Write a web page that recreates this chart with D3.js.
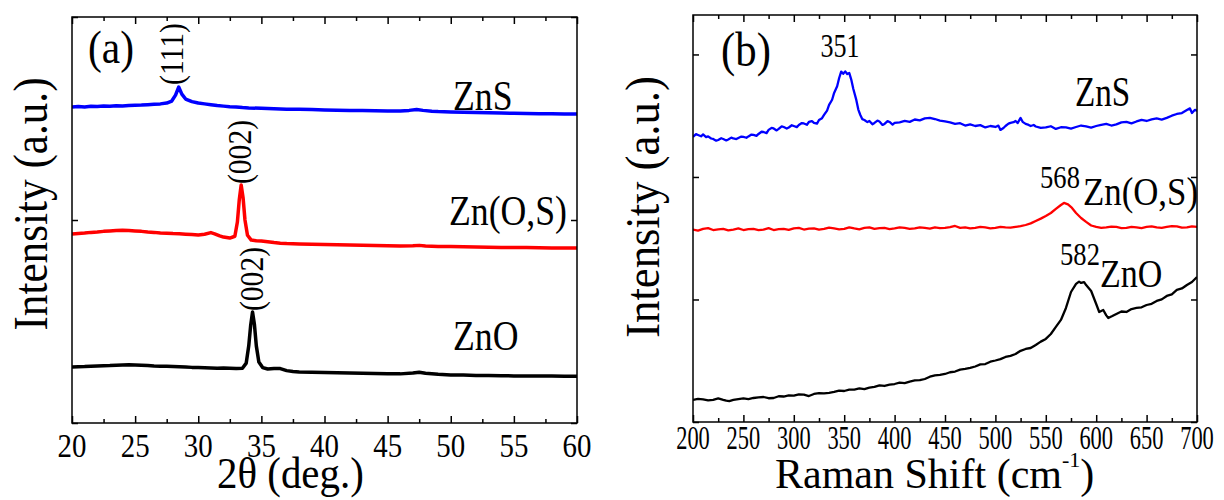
<!DOCTYPE html>
<html><head><meta charset="utf-8">
<script src="https://cdn.jsdelivr.net/npm/d3@7"></script>
<style>
body{margin:0;background:#fff}
svg{display:block}
</style>
</head><body>
<svg id="c" width="1224" height="500" font-family="Liberation Serif, Times New Roman, Tinos, DejaVu Serif, serif"></svg>
<script>
// ---------- DATA ----------
const xrdMajorTicks = [20,25,30,35,40,45,50,55,60];
const xrdMinorTicks = [22.5,27.5,32.5,37.5,42.5,47.5,52.5,57.5];
const xrdYTicks = [0,100,200];

const xrdZnS = [[20,155.6],[20.5,155.9],[21,155.7],[21.5,156.0],[22,155.9],[22.5,156.1],[23,156.0],[23.5,156.3],[24,156.2],[24.5,156.4],[25,156.5],[25.5,156.6],[26,156.8],[26.5,157.0],[27,157.2],[27.5,157.6],[27.9,158.6],[28.2,161.5],[28.45,165.5],[28.7,162.0],[29,159.6],[29.5,158.3],[30,157.6],[30.5,157.2],[31,156.8],[31.5,156.4],[32,156.1],[32.5,155.8],[33,155.7],[33.5,155.4],[34,155.2],[35,155.0],[36,154.8],[37,154.6],[38,154.5],[39,154.4],[40,154.2],[41,154.1],[42,154.0],[43,153.9],[44,153.8],[45,153.7],[46,153.7],[46.7,154.0],[47.3,154.4],[47.8,154.0],[48.5,153.6],[49,153.4],[50,153.2],[51,153.1],[52,152.9],[53,152.8],[54,152.7],[55,152.6],[56,152.5],[57,152.4],[58,152.3],[59,152.2],[60,152.2]];

const xrdZnOS = [[20,93.1],[20.5,93.4],[21,93.6],[21.5,93.9],[22,94.1],[22.5,94.4],[23,94.6],[23.5,94.8],[24,94.9],[24.5,94.8],[25,94.6],[25.5,94.4],[26,94.1],[26.5,93.9],[27,93.6],[27.5,93.5],[28,93.3],[28.5,93.2],[29,93.0],[29.5,92.8],[30,92.6],[30.5,93.0],[31,93.8],[31.3,93.2],[31.7,92.2],[32,91.6],[32.5,91.1],[32.9,92.0],[33.1,99.0],[33.25,110.0],[33.4,117.2],[33.55,111.0],[33.7,100.0],[33.9,92.5],[34.2,90.1],[34.6,89.8],[35,89.7],[35.5,89.3],[36,88.9],[36.5,88.6],[37,88.4],[38,88.2],[39,88.0],[40,87.9],[41,87.8],[42,87.7],[43,87.6],[44,87.4],[45,87.3],[46,87.2],[47,87.3],[47.5,87.5],[48,87.2],[49,87.0],[50,86.9],[51,86.8],[52,86.7],[53,86.6],[54,86.5],[55,86.5],[56,86.4],[57,86.3],[58,86.2],[59,86.2],[60,86.2]];

const xrdZnO = [[20,27.6],[20.5,27.7],[21,27.8],[21.5,28.0],[22,28.1],[22.5,28.2],[23,28.3],[23.5,28.5],[24,28.6],[24.5,28.7],[25,28.6],[25.5,28.5],[26,28.3],[26.5,28.1],[27,28.0],[27.5,27.9],[28,27.8],[28.5,27.7],[29,27.6],[29.5,27.4],[30,27.3],[30.5,27.2],[31,27.1],[31.5,27.0],[32,27.1],[32.5,27.0],[33,26.8],[33.5,27.0],[33.8,29.5],[34.0,38.0],[34.15,48.0],[34.3,54.7],[34.45,48.5],[34.6,38.0],[34.8,30.0],[35.1,27.3],[35.5,26.6],[36,26.9],[36.5,26.8],[37,25.8],[37.5,25.4],[38,25.1],[39,25.0],[40,24.9],[41,24.8],[42,24.6],[43,24.5],[44,24.4],[45,24.3],[46,24.2],[47,24.6],[47.5,25.0],[48,24.5],[49,24.0],[50,23.7],[51,23.6],[52,23.4],[53,23.4],[54,23.3],[55,23.2],[56,23.2],[57,23.1],[58,23.1],[59,23.0],[60,23.0]];

const ramanMajorTicks = [200,250,300,350,400,450,500,550,600,650,700];
const ramanMinorTicks = [225,275,325,375,425,475,525,575,625,675];
const ramanYTicks = [0,100,200,300];

const ramanZnS = [[200,232.7],[203,235.0],[205,234.3],[208,233.2],[210,234.7],[213,232.6],[215,233.1],[218,231.4],[220,231.0],[223,229.6],[225,230.2],[228,231.6],[230,231.0],[233,229.8],[235,230.6],[238,232.1],[240,231.4],[243,230.9],[245,231.8],[248,233.0],[250,232.7],[253,232.0],[255,233.1],[258,234.6],[260,234.3],[263,233.6],[265,235.1],[268,236.9],[270,236.7],[273,235.8],[275,238.4],[278,240.1],[280,239.6],[283,238.0],[285,239.2],[288,241.3],[290,240.8],[293,239.5],[295,240.4],[298,242.2],[300,241.6],[303,240.7],[305,242.4],[308,244.0],[310,243.7],[313,242.6],[315,244.9],[318,245.6],[320,244.1],[323,243.5],[325,246.5],[328,248.0],[330,250.6],[333,254.2],[335,258.8],[338,263.0],[340,268.6],[343,274.0],[345,280.8],[347,286.0],[349,284.2],[351,286.2],[353,284.0],[355,284.9],[357,279.5],[359,272.0],[362,262.9],[364,255.0],[366,250.6],[368,247.2],[370,246.5],[373,244.8],[375,245.7],[378,243.0],[380,244.1],[383,246.0],[385,245.3],[388,242.5],[390,243.3],[393,245.6],[395,244.9],[398,242.8],[400,244.1],[405,244.6],[410,245.7],[415,245.0],[420,246.9],[425,246.2],[430,247.8],[435,248.3],[440,247.3],[445,246.0],[450,245.3],[455,244.5],[460,243.3],[465,243.9],[470,242.0],[475,242.9],[480,241.6],[485,242.3],[490,240.4],[495,241.6],[500,240.8],[503,241.9],[505,238.4],[508,240.0],[510,241.6],[513,243.5],[515,244.1],[518,244.7],[520,245.7],[522,244.0],[525,248.2],[527,245.0],[530,243.3],[533,242.5],[535,241.6],[538,242.4],[540,241.2],[545,240.0],[550,240.4],[555,241.4],[560,239.2],[565,240.6],[570,240.4],[575,239.5],[580,240.8],[585,242.0],[590,241.2],[595,240.3],[600,241.6],[605,242.5],[610,243.3],[615,242.0],[620,242.9],[625,244.6],[630,244.9],[635,243.8],[640,245.3],[645,246.6],[650,245.7],[655,247.0],[660,247.8],[665,246.8],[670,248.2],[675,250.0],[680,251.4],[685,252.2],[690,254.7],[693,256.0],[695,252.2],[698,254.8],[700,253.9]];

const ramanZnOS = [[200,157.1],[205,156.2],[210,157.6],[215,158.2],[220,156.7],[225,157.2],[230,157.6],[235,156.4],[240,157.1],[245,158.0],[250,156.7],[255,157.5],[260,157.6],[265,156.6],[270,157.1],[275,158.2],[280,156.7],[285,157.4],[290,157.6],[295,156.8],[300,158.0],[305,158.4],[310,157.1],[315,157.8],[320,158.0],[325,157.0],[330,157.6],[335,158.7],[340,158.0],[345,157.3],[350,157.6],[355,158.9],[360,158.0],[365,157.2],[370,158.4],[375,158.9],[380,157.6],[385,158.2],[390,158.4],[395,157.4],[400,158.0],[405,158.8],[410,158.4],[415,157.6],[420,158.0],[425,158.9],[430,158.4],[435,157.9],[440,158.8],[445,158.3],[450,158.4],[455,159.0],[460,160.0],[465,158.5],[470,158.8],[475,158.0],[480,158.4],[485,159.2],[490,158.8],[495,158.1],[500,158.4],[505,159.3],[510,158.8],[515,158.6],[520,159.2],[525,159.8],[530,160.8],[535,162.1],[540,164.1],[545,166.0],[550,168.2],[555,170.6],[560,173.9],[565,177.1],[568,178.8],[572,177.6],[576,174.7],[580,170.6],[585,166.5],[590,163.3],[595,160.4],[600,159.2],[605,158.4],[610,158.8],[615,159.5],[620,159.2],[625,158.3],[630,158.4],[635,159.3],[640,158.8],[645,158.2],[650,159.2],[655,159.7],[660,158.8],[665,158.4],[670,159.2],[675,159.9],[680,159.6],[685,158.7],[690,158.8],[695,159.6],[700,159.2]];

const ramanZnO = [[200,18.0],[205,18.8],[210,18.4],[215,17.6],[220,18.0],[225,19.2],[230,18.0],[233,17.4],[236,17.1],[240,18.0],[245,18.7],[250,19.2],[255,18.6],[260,19.6],[265,20.1],[270,20.4],[275,19.4],[280,19.6],[285,21.0],[290,20.8],[295,21.7],[300,21.6],[305,22.6],[310,22.4],[315,21.2],[320,22.9],[325,23.6],[330,23.3],[335,23.8],[340,24.5],[345,25.6],[350,25.3],[355,26.4],[360,26.5],[365,27.5],[370,26.9],[375,28.1],[380,28.6],[385,29.9],[390,29.4],[395,30.5],[400,31.0],[405,32.2],[410,31.8],[415,33.0],[420,33.9],[425,34.1],[430,35.1],[435,37.0],[440,38.0],[445,38.4],[450,39.2],[455,40.6],[460,41.2],[465,42.8],[470,43.3],[475,44.1],[480,45.3],[485,47.0],[490,47.3],[495,49.2],[500,50.2],[505,51.3],[510,53.1],[515,54.0],[520,55.5],[525,58.1],[530,59.6],[535,60.4],[540,62.9],[545,65.6],[550,67.8],[555,71.8],[560,77.6],[565,83.3],[570,93.1],[575,106.1],[580,112.7],[583,114.6],[585,113.5],[588,114.2],[590,111.8],[595,106.9],[600,96.3],[603,89.8],[607,91.4],[610,87.0],[612,84.9],[616,86.5],[620,88.2],[625,90.2],[630,89.8],[635,92.2],[640,93.1],[645,93.6],[650,95.5],[655,96.5],[660,98.8],[665,100.1],[670,102.9],[675,104.2],[680,107.8],[685,109.0],[690,111.8],[695,114.3],[700,118.4]];

// ---------- DRAW ----------
const svg = d3.select("#c");
const FONT = "Liberation Serif, Times New Roman, Tinos, DejaVu Serif, serif";

function txt(g, x, y, s, size, sx, rot, anchor) {
  return g.append("text")
    .attr("font-family", FONT)
    .attr("transform", `translate(${x},${y})` + (rot ? ` rotate(${rot})` : "") + ` scale(${sx},1)`)
    .attr("font-size", size)
    .attr("text-anchor", anchor || "middle")
    .attr("fill", "#000")
    .text(s);
}

function panel(cfg) {
  const g = svg.append("g");
  const x = d3.scaleLinear().domain(cfg.xDomain).range([cfg.left, cfg.right]);
  const y = d3.scaleLinear().domain(cfg.yDomain).range([cfg.bottom, cfg.top]);
  const clipId = "clip" + cfg.id;
  svg.append("clipPath").attr("id", clipId).append("rect")
    .attr("x", cfg.left).attr("y", cfg.top)
    .attr("width", cfg.right - cfg.left).attr("height", cfg.bottom - cfg.top);

  const axes = [
    [d3.axisBottom(x).tickValues(cfg.major).tickSize(-7), `translate(0,${cfg.bottom})`],
    [d3.axisBottom(x).tickValues(cfg.minor).tickSize(-4), `translate(0,${cfg.bottom})`],
    [d3.axisTop(x).tickValues(cfg.major).tickSize(-7), `translate(0,${cfg.top})`],
    [d3.axisTop(x).tickValues(cfg.minor).tickSize(-4), `translate(0,${cfg.top})`],
    [d3.axisLeft(y).tickValues(cfg.yTicks).tickSize(-6), `translate(${cfg.left},0)`],
    [d3.axisRight(y).tickValues(cfg.yTicks).tickSize(-6), `translate(${cfg.right},0)`]
  ];
  axes.forEach(([ax, tr]) => {
    const a = g.append("g").attr("transform", tr).call(ax.tickFormat(""));
    a.select(".domain").remove();
    a.selectAll("text").remove();
    a.selectAll("line").attr("stroke", "#000").attr("stroke-width", 1.5);
  });

  const line = d3.line().x(d => x(d[0])).y(d => y(d[1]));
  cfg.series.forEach(s => {
    g.append("path").datum(s.data)
      .attr("clip-path", `url(#${clipId})`)
      .attr("fill", "none").attr("stroke", s.color)
      .attr("stroke-width", cfg.lw).attr("stroke-linejoin", "round")
      .attr("d", line);
  });

  g.append("rect").attr("x", cfg.left).attr("y", cfg.top)
    .attr("width", cfg.right - cfg.left).attr("height", cfg.bottom - cfg.top)
    .attr("fill", "none").attr("stroke", "#000").attr("stroke-width", 1.5);

  g.selectAll("text.tl").data(cfg.major).join("text").attr("class", "tl")
    .attr("font-family", FONT).attr("fill", "#000")
    .attr("transform", d => `translate(${x(d)},${cfg.labelY}) scale(${cfg.labelSx},1)`)
    .attr("font-size", 34).attr("text-anchor", "middle")
    .text(d => d);
  return {g, x, y};
}

const A = panel({
  id: "a", left: 72, right: 577, top: 17, bottom: 423,
  xDomain: [20, 60], yDomain: [0, 200],
  major: xrdMajorTicks, minor: xrdMinorTicks, yTicks: xrdYTicks,
  labelY: 457, labelSx: 0.85, lw: 3.5,
  series: [
    {data: xrdZnS, color: "#0000ff"},
    {data: xrdZnOS, color: "#ff0000"},
    {data: xrdZnO, color: "#000000"}
  ]
});

const B = panel({
  id: "b", left: 693, right: 1197, top: 15, bottom: 422,
  xDomain: [200, 700], yDomain: [0, 332.2],
  major: ramanMajorTicks, minor: ramanMinorTicks, yTicks: ramanYTicks,
  labelY: 449, labelSx: 0.66, lw: 2.3,
  series: [
    {data: ramanZnS, color: "#0000ff"},
    {data: ramanZnOS, color: "#ff0000"},
    {data: ramanZnO, color: "#000000"}
  ]
});

// Panel (a) annotations
txt(A.g, 111, 63, "(a)", 46, 0.9);
txt(A.g, 183, 54, "(111)", 34, 0.87, -90);
txt(A.g, 251, 152, "(002)", 34, 0.87, -90);
txt(A.g, 263, 279, "(002)", 34, 0.87, -90);
txt(A.g, 453, 110, "ZnS", 42, 0.85, 0, "start");
txt(A.g, 449, 225, "Zn(O,S)", 42, 0.85, 0, "start");
txt(A.g, 453, 350, "ZnO", 42, 0.85, 0, "start");
txt(A.g, 47, 204, "Intensity (a.u.)", 48, 0.9, -90);
txt(A.g, 217, 488, "2θ (deg.)", 44, 0.93, 0, "start");

// Panel (b) annotations
txt(B.g, 746, 66, "(b)", 48, 0.89);
txt(B.g, 840, 57, "351", 33, 0.79);
txt(B.g, 1075, 106, "ZnS", 42, 0.79, 0, "start");
txt(B.g, 1060, 188, "568", 32, 0.83);
txt(B.g, 1083, 205, "Zn(O,S)", 40, 0.87, 0, "start");
txt(B.g, 1080, 265, "582", 32, 0.83);
txt(B.g, 1100, 287, "ZnO", 40, 0.85, 0, "start");
txt(B.g, 659, 207, "Intensity (a.u.)", 48, 0.93, -90);

const rt = B.g.append("text").attr("transform", "translate(775,488)")
  .attr("font-family", FONT).attr("fill", "#000")
  .attr("font-size", 42).attr("text-anchor", "start");
rt.append("tspan").text("Raman Shift (cm");
rt.append("tspan").attr("font-size", 22).attr("dy", -21).text("-1");
rt.append("tspan").attr("dy", 21).text(")");
</script>
</body></html>
